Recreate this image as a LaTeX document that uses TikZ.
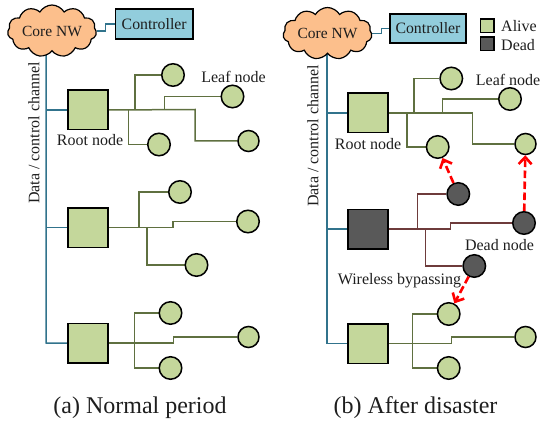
\documentclass[tikz,border=0pt]{standalone}
\usepackage{fontspec}
\setmainfont{Liberation Serif}
\usetikzlibrary{shapes.symbols,arrows.meta,backgrounds}
\definecolor{alivefill}{HTML}{C4D79B}
\definecolor{deadfill}{HTML}{595959}
\definecolor{coreorange}{HTML}{FCBF8C}
\definecolor{ctrlblue}{HTML}{92CDDC}
\definecolor{aliveline}{HTML}{5F7040}
\definecolor{deadline}{HTML}{6E3B3B}
\definecolor{busline}{HTML}{31738C}
\definecolor{inktext}{HTML}{1E1E1E}
\tikzset{
  rootbox/.style={draw=black,line width=1.5pt,fill=alivefill,minimum width=40pt,minimum height=39.5pt,inner sep=0pt},
  deadroot/.style={rootbox,fill=deadfill},
  leafnode/.style={circle,draw=black,line width=1.5pt,fill=alivefill,minimum size=22.5pt,inner sep=0pt},
  smallleaf/.style={leafnode,minimum size=21pt},
  deadleaf/.style={leafnode,fill=deadfill},
  corecloud/.style={cloud,cloud puffs=11,cloud puff arc=120,cloud ignores aspect,draw=black,line width=1.2pt,fill=coreorange,minimum width=89pt,minimum height=52pt,inner sep=0pt,text=inktext,font=\fontsize{15.5}{17}\selectfont},
  ctrlbox/.style={draw=black,line width=1.5pt,fill=ctrlblue,inner sep=0pt,text=inktext,font=\fontsize{15.8}{17}\selectfont},
  legendbox/.style={draw=black,line width=1.5pt,minimum width=13.5pt,minimum height=13.5pt,inner sep=0pt},
  lab/.style={inner sep=0pt,text=inktext,font=\fontsize{16}{18}\selectfont},
  captext/.style={inner sep=0pt,text=inktext,font=\fontsize{24}{26}\selectfont},
  alivelink/.style={draw=aliveline,line width=1.5pt},
  deadlink/.style={draw=deadline,line width=1.5pt},
  buslink/.style={draw=busline,line width=1.5pt},
  bypass/.style={draw=red,line width=2.6pt,dash pattern=on 7.5pt off 3.5pt,-{Straight Barb[length=7pt,width=13pt,line width=2.6pt]}}
}
\begin{document}
\begin{tikzpicture}[x=1pt,y=-1pt]
\useasboundingbox (0,0) rectangle (541,425);
% ---- panel (a)
\node[corecloud] (coreA) at (52,31) {Core NW};
\node[ctrlbox,minimum width=77.5pt,minimum height=30pt] (ctrlA) at (154.2,24) {Controller};
\coordinate (busA) at (46,40);
\coordinate (busAend) at (46,343);
\node[rootbox] (ra1) at (88.2,110) {};
\node[rootbox] (ra2) at (88.2,227.5) {};
\node[rootbox] (ra3) at (88.2,343.2) {};
\node[leafnode] (la1) at (173,75) {};
\node[leafnode] (la2) at (232.5,96.5) {};
\node[leafnode] (la3) at (159,144.5) {};
\node[smallleaf] (la4) at (248.5,141) {};
\node[leafnode] (la5) at (180,192) {};
\node[leafnode] (la6) at (248,221.5) {};
\node[leafnode] (la7) at (196.5,265) {};
\node[leafnode] (la8) at (170.5,313) {};
\node[smallleaf] (la9) at (248.5,337) {};
\node[leafnode] (la10) at (170.5,368) {};
% ---- panel (b)
\node[corecloud] (coreB) at (327.5,33.5) {Core NW};
\node[ctrlbox,minimum width=76pt,minimum height=29pt] (ctrlB) at (428,28.5) {Controller};
\coordinate (busB) at (327,40);
\coordinate (busBend) at (327,343.5);
\node[rootbox] (rb1) at (368.2,112.8) {};
\node[deadroot] (rb2) at (368.2,229) {};
\node[rootbox] (rb3) at (368.2,343.5) {};
\node[leafnode] (lb1) at (451.3,78.5) {};
\node[leafnode] (lb2) at (510,99) {};
\node[leafnode] (lb3) at (437.7,147) {};
\node[smallleaf] (lb4) at (525.5,144) {};
\node[deadleaf] (lb5) at (458.3,194) {};
\node[deadleaf] (lb6) at (524,223) {};
\node[deadleaf] (lb7) at (474.3,266) {};
\node[leafnode] (lb8) at (448.7,314) {};
\node[smallleaf] (lb9) at (525.5,337) {};
\node[leafnode] (lb10) at (448.7,368) {};
% legend
\node[legendbox,fill=alivefill] (legA) at (487.3,26) {};
\node[legendbox,fill=deadfill] (legD) at (487.3,44) {};
\node[lab,anchor=west] (legAt) at (501,26) {Alive};
\node[lab,anchor=west] (legDt) at (501,45) {Dead};
% labels
\node[lab] (t1) at (233.5,77) {Leaf node};
\node[lab] (t2) at (90,140) {Root node};
\node[lab,rotate=90] (t3) at (34,133) {Data / control channel};
\node[lab,anchor=east] (t4) at (540.5,80) {Leaf node};
\node[lab] (t5) at (368,144) {Root node};
\node[lab,rotate=90] (t6) at (313,136) {Data / control channel};
\node[lab] (t7) at (499.5,245) {Dead node};
\node[lab] (t8) at (399.5,281) {Wireless bypassing};
\node[captext] (capA) at (140,408) {(a) Normal period};
\node[captext] (capB) at (415.5,408) {(b) After disaster};
% links
\begin{scope}[on background layer]
\coordinate (a1) at (135,109.5); \coordinate (a2) at (164.5,109.5); \coordinate (a3) at (128.5,109.5); \coordinate (a4) at (195,109.5);
\coordinate (a5) at (139,227.5); \coordinate (a6) at (173,227.5); \coordinate (a7) at (147,227.5);
\coordinate (a8) at (134.5,343.2); \coordinate (a9) at (173.5,343.2); \coordinate (a10) at (134.5,368);
\coordinate (b1) at (414,112.8); \coordinate (b2) at (442.7,112.8); \coordinate (b3) at (407,112.8); \coordinate (b4) at (472.5,112.8);
\coordinate (b5) at (417.3,229); \coordinate (b6) at (450.3,229); \coordinate (b7) at (425.7,229);
\coordinate (b8) at (412.7,343.5); \coordinate (b9) at (451.7,343.5);
\draw[buslink] (coreA.east) -- ++(9,0) |- (ctrlA.west);
\draw[buslink] (busA) -- (busAend) -- (ra3.west);
\draw[buslink] (ra1.west) -- (ra1.west -| busA);
\draw[buslink] (ra2.west) -- (ra2.west -| busA);
\draw[alivelink] (ra1.east) -- (a4) |- (la4.west);
\draw[alivelink] (a1) |- (la1.west);
\draw[alivelink] (a2) |- (la2.west);
\draw[alivelink] (a3) |- (la3.west);
\draw[alivelink] (ra2.east) -- (a6) |- (la6.west);
\draw[alivelink] (a5) |- (la5.west);
\draw[alivelink] (a7) |- (la7.west);
\draw[alivelink] (ra3.east) -- (a9) |- (la9.west);
\draw[alivelink] (la8.west) -| (a8) -- (a10) -- (la10.west);
\draw[buslink] (coreB.east) -- ++(9,0) |- (ctrlB.west);
\draw[buslink] (busB) -- (busBend) -- (rb3.west);
\draw[buslink] (rb1.west) -- (rb1.west -| busB);
\draw[buslink] (rb2.west) -- (rb2.west -| busB);
\draw[alivelink] (rb1.east) -- (b4) |- (lb4.west);
\draw[alivelink] (b1) |- (lb1.west);
\draw[alivelink] (b2) |- (lb2.west);
\draw[alivelink] (b3) |- (lb3.west);
\draw[deadlink] (rb2.east) -- (b6) |- (lb6.west);
\draw[deadlink] (b5) |- (lb5.west);
\draw[deadlink] (b7) |- (lb7.west);
\draw[alivelink] (rb3.east) -- (b9) |- (lb9.west);
\draw[alivelink] (lb8.west) -| (b8) |- (lb10.west);
\end{scope}
\draw[bypass] (lb5) -- (lb3);
\draw[bypass] (lb6) -- (lb4);
\draw[bypass] (lb7) -- (lb8);
\end{tikzpicture}
\end{document}
